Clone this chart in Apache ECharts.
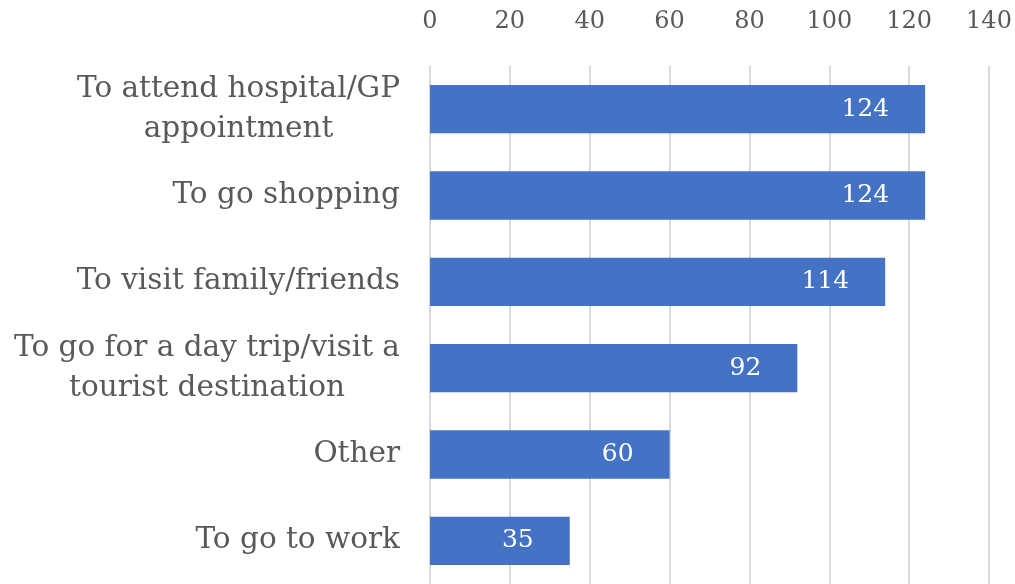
<!DOCTYPE html>
<html>
<head>
<meta charset="utf-8">
<script src="https://cdn.jsdelivr.net/npm/echarts@6/dist/echarts.min.js"></script>
<style>
  html, body { margin: 0; padding: 0; background: #ffffff; }
  #chart { width: 1015px; height: 584px; }
</style>
</head>
<body>
<div id="chart"></div>
<script>
const categories = [
  "To attend hospital/GP\nappointment",
  "To go shopping",
  "To visit family/friends",
  "To go for a day trip/visit a\ntourist destination",
  "Other",
  "To go to work"
];
const counts = [124, 124, 114, 92, 60, 35];
const tickMax = 140;
const tickStep = 20;

const fontFamily = "'DejaVu Serif', serif";
const textColor = "#595959";
const catFontSize = 29.5;

// wrapped labels: lines are centred inside the block, block is right-aligned
const measureCtx = document.createElement("canvas").getContext("2d");
measureCtx.font = catFontSize + "px 'DejaVu Serif'";
const catRich = {};
categories.forEach((c, i) => {
  const w = Math.max(...c.split("\n").map(l => measureCtx.measureText(l).width));
  catRich["c" + i] = {
    width: Math.ceil(w),
    align: "center",
    color: textColor,
    fontFamily: fontFamily,
    fontSize: catFontSize,
    lineHeight: 40
  };
});

const chart = echarts.init(document.getElementById("chart"));

chart.setOption({
  animation: false,
  grid: {
    left: 430,
    right: 26,
    top: 66,
    bottom: -2
  },
  xAxis: {
    type: "value",
    position: "top",
    min: 0,
    max: tickMax,
    interval: tickStep,
    axisLine: { show: false },
    axisTick: { show: false },
    axisLabel: {
      color: textColor,
      fontFamily: fontFamily,
      fontSize: 24,
      margin: 32
    },
    splitLine: {
      lineStyle: { color: "#d9d9d9", width: 2 }
    }
  },
  yAxis: {
    type: "category",
    data: categories,
    inverse: true,
    axisLine: { show: false },
    axisTick: { show: false },
    axisLabel: {
      color: textColor,
      fontFamily: fontFamily,
      fontSize: catFontSize,
      lineHeight: 40,
      margin: 30,
      align: "right",
      formatter: (value, idx) => {
        if (value.indexOf("\n") < 0) return value;
        return value.split("\n").map(l => "{c" + idx + "|" + l + "}").join("\n");
      },
      rich: catRich
    }
  },
  series: [
    {
      type: "bar",
      data: counts,
      barWidth: "56%",
      itemStyle: { color: "#4472c4" },
      label: {
        show: true,
        position: "insideRight",
        distance: 36,
        color: "#ffffff",
        fontFamily: fontFamily,
        fontSize: 25
      }
    }
  ]
});
</script>
</body>
</html>
